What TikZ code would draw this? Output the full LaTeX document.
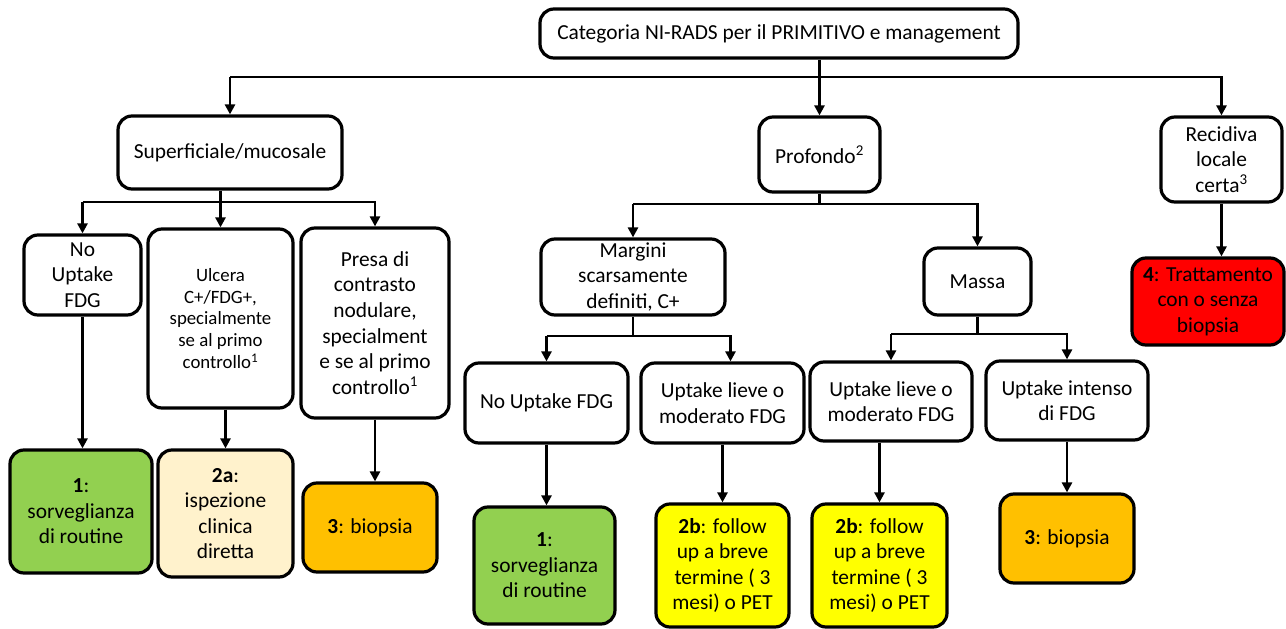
\documentclass[tikz,border=0pt]{standalone}
\usepackage{fontspec}
\setmainfont{Carlito}
\usetikzlibrary{arrows.meta,calc}
\tikzset{
  box/.style={draw, line width=3.2pt, rounded corners=14pt, align=center, inner sep=0pt,
    font=\fontsize{21.4}{25.6}\selectfont},
  conn/.style={line width=2.8pt},
  arr/.style={conn, -{Triangle[length=10pt,width=10pt]}},
}
\definecolor{cgreen}{HTML}{92D050}
\definecolor{ccream}{HTML}{FFF2CC}
\definecolor{corange}{HTML}{FFC000}
\definecolor{cyellow}{HTML}{FFFF00}
\definecolor{cred}{HTML}{FF0000}
\begin{document}
\begin{tikzpicture}[x=1pt,y=-1pt]
\fill[white] (0,0) rectangle (1286,629);
\useasboundingbox (0,0) rectangle (1286,629);
% level 0
\node[box, minimum width=478, minimum height=49] (top) at (779,33.5) {Categoria NI-RADS per il PRIMITIVO e management};
% level 1
\node[box, minimum width=224, minimum height=73] (sup) at (230,152.5) {Superficiale/mucosale};
\node[box, minimum width=121, minimum height=75] (prof) at (819.5,154.5) {Profondo\textsuperscript{2}};
\node[box, minimum width=121, minimum height=85] (rec) at (1221.5,159.5) {Recidiva\\locale\\certa\textsuperscript{3}};
% level 2
\node[box, minimum width=117, minimum height=80] (noup1) at (82.5,275) {No\\Uptake\\FDG};
\node[box, minimum width=145, minimum height=179, font=\fontsize{18.8}{21.8}\selectfont] (ulc) at (220.5,318.5) {Ulcera\\C+/FDG+,\\specialmente\\se al primo\\controllo\textsuperscript{1}};
\node[box, minimum width=148, minimum height=190] (presa) at (375,323) {Presa di\\contrasto\\nodulare,\\specialment\\e se al primo\\controllo\textsuperscript{1}};
\node[box, minimum width=184, minimum height=76] (marg) at (633,277) {Margini\\scarsamente\\definiti, C+};
\node[box, minimum width=107, minimum height=67] (massa) at (977.5,281.5) {Massa};
\node[box, fill=cred, minimum width=152, minimum height=87] (red) at (1208,301.5) {\textbf{4}: Trattamento\\con o senza\\biopsia};
% level 3 (left)
\node[box, fill=cgreen, minimum width=142, minimum height=123] (g1) at (81,511.5) {\textbf{1}:\\sorveglianza\\di routine};
\node[box, fill=ccream, minimum width=135, minimum height=127] (a2) at (225.5,513.5) {\textbf{2a}:\\ispezione\\clinica\\diretta};
\node[box, fill=corange, minimum width=134, minimum height=89] (b3a) at (370,527.5) {\textbf{3}: biopsia};
% level 3 (middle)
\node[box, minimum width=163, minimum height=80] (noup2) at (546.5,403) {No Uptake FDG};
\node[box, minimum width=163, minimum height=80] (ul1) at (722.5,403) {Uptake lieve o\\moderato FDG};
\node[box, minimum width=162, minimum height=79] (ul2) at (891,401.5) {Uptake lieve o\\moderato FDG};
\node[box, minimum width=162, minimum height=79] (uint) at (1067,400.5) {Uptake intenso\\di FDG};
% level 4
\node[box, fill=cgreen, minimum width=141, minimum height=117] (g2) at (544.5,565.5) {\textbf{1}:\\sorveglianza\\di routine};
\node[box, fill=cyellow, minimum width=133, minimum height=123] (y1) at (722.5,565.5) {\textbf{2b}: follow\\up a breve\\termine ( 3\\mesi) o PET};
\node[box, fill=cyellow, minimum width=135, minimum height=123] (y2) at (879.5,565.5) {\textbf{2b}: follow\\up a breve\\termine ( 3\\mesi) o PET};
\node[box, fill=corange, minimum width=134, minimum height=89] (b3b) at (1067,538.5) {\textbf{3}: biopsia};
% bus coordinates
\coordinate (bus0) at (0,77);
\coordinate (bus1) at (0,202);
\coordinate (bus2) at (0,204);
\coordinate (bus3) at (0,336);
\coordinate (bus4) at (0,334);
% connectors from top
\draw[arr] (top.south -| prof) -- (prof.north);
\draw[arr] (bus0 -| sup) -- (sup.north);
\draw[arr] (bus0 -| sup) -| (rec.north);
% superficiale
\draw[arr] (sup.south -| ulc) -- (ulc.north);
\draw[arr] (bus1 -| noup1) -- (noup1.north);
\draw[arr] (bus1 -| noup1) -| (presa.north);
\draw[arr] (noup1.south) -- (noup1.south |- g1.north);
\draw[arr] (a2.north |- ulc.south) -- (a2.north);
\draw[arr] (presa.south) -- (presa.south |- b3a.north);
% profondo
\draw[conn] (prof.south) -- (bus2 -| prof);
\draw[arr] (bus2 -| marg) -- (marg.north);
\draw[arr] (bus2 -| marg) -| (massa.north);
% recidiva
\draw[arr] (rec.south) -- (rec.south |- red.north);
% margini
\draw[conn] (marg.south) -- (bus3 -| marg);
\draw[arr] (bus3 -| noup2) -- (noup2.north);
\draw[arr] (bus3 -| noup2) -| ($(ul1.north)+(8,0)$);
\draw[arr] (noup2.south) -- (noup2.south |- g2.north);
\draw[arr] (ul1.south) -- (y1.north);
% massa
\draw[conn] (massa.south) -- (bus4 -| massa);
\draw[arr] (bus4 -| ul2) -- (ul2.north);
\draw[arr] (bus4 -| ul2) -| (uint.north);
\draw[arr] (y2.north |- ul2.south) -- (y2.north);
\draw[arr] (uint.south) -- (b3b.north);
\end{tikzpicture}
\end{document}
